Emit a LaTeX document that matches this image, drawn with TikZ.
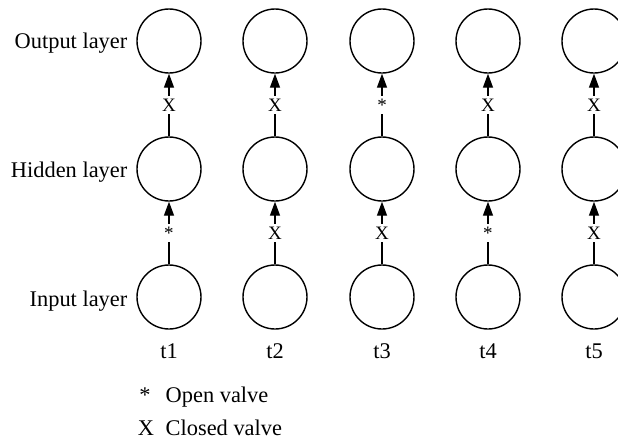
\documentclass[tikz,border=0pt]{standalone}
\usepackage{fontspec}
\setmainfont{Liberation Serif}
\usetikzlibrary{arrows.meta}
\tikzset{
	unit/.style={circle,draw,minimum size=32pt,inner sep=0pt},
	valve/.style={fill=white,inner sep=1.2pt,text height=1.45ex,text depth=0pt,font=\fontsize{9.5}{11}\selectfont},
	feed/.style={-{Triangle[length=7pt,width=5pt]}}
}

\begin{document}
\begin{tikzpicture}[x=0.5pt,y=-0.5pt,line width=0.7pt,font=\fontsize{11.2}{13}\selectfont]
	\clip (0,0) rectangle (618,440);
	% columns: position / valve hidden->output / valve input->hidden
	\foreach \X/\A/\B [count=\Z] in {169/X/*,275/X/X,382/*/X,488/X/*,594/X/X}
	{
		\node[unit] (o\Z) at (\X,41) {};
		\node[unit] (h\Z) at (\X,169) {};
		\node[unit] (i\Z) at (\X,297) {};
		\draw[feed] (h\Z) -- node[valve]{\A} (o\Z);
		\draw[feed] (i\Z) -- node[valve]{\B} (h\Z);
		\node[anchor=base] (t\Z) at (\X,358) {t\Z};
	}
	\node[anchor=base east,inner sep=0pt] (lo) at (128,48) {Output layer};
	\node[anchor=base east,inner sep=0pt] (lh) at (128,177) {Hidden layer};
	\node[anchor=base east,inner sep=0pt] (li) at (128,306) {Input layer};
	% legend
	\node[anchor=base,inner sep=0pt] (ko) at (145,402) {*};
	\node[anchor=base west,inner sep=0pt] (kot) at (165,402) {Open valve};
	\node[anchor=base,inner sep=0pt] (kc) at (146,435) {X};
	\node[anchor=base west,inner sep=0pt] (kct) at (165,435) {Closed valve};
\end{tikzpicture}
\end{document}
